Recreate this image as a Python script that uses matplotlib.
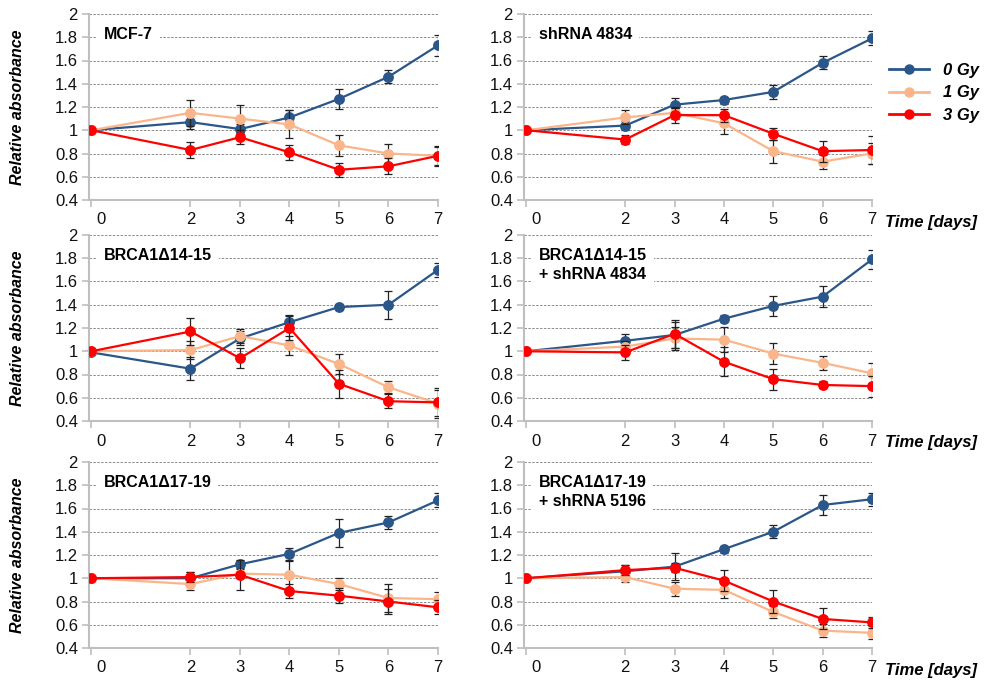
import matplotlib.pyplot as plt
from matplotlib.lines import Line2D
from matplotlib.transforms import ScaledTranslation

plt.rcParams["font.family"] = ["Liberation Sans", "DejaVu Sans"]

days = [0, 2, 3, 4, 5, 6, 7]
doses = ["0 Gy", "1 Gy", "3 Gy"]
dose_colors = ["#2B5689", "#FAB58A", "#FF0000"]

titles = [
    "MCF-7",
    "shRNA 4834",
    "BRCA1\u039414-15",
    "BRCA1\u039414-15\n+ shRNA 4834",
    "BRCA1\u039417-19",
    "BRCA1\u039417-19\n+ shRNA 5196",
]

# mean values per panel: [0 Gy, 1 Gy, 3 Gy]
mcf7_mean = [
    [1, 1.07, 1.01, 1.11, 1.27, 1.46, 1.73],
    [1, 1.15, 1.10, 1.05, 0.87, 0.80, 0.78],
    [1, 0.83, 0.94, 0.81, 0.66, 0.69, 0.78],
]
mcf7_err = [
    [0, 0.06, 0.04, 0.06, 0.085, 0.055, 0.09],
    [0, 0.11, 0.12, 0.12, 0.09, 0.085, 0.08],
    [0, 0.065, 0.06, 0.065, 0.06, 0.07, 0.085],
]
sh4834_mean = [
    [1, 1.04, 1.22, 1.26, 1.33, 1.58, 1.79],
    [1, 1.11, 1.15, 1.06, 0.82, 0.73, 0.80],
    [1, 0.92, 1.13, 1.13, 0.97, 0.82, 0.83],
]
sh4834_err = [
    [0, 0.04, 0.057, 0.03, 0.057, 0.055, 0.06],
    [0, 0.06, 0.05, 0.09, 0.1, 0.06, 0.09],
    [0, 0.04, 0.065, 0.055, 0.05, 0.09, 0.12],
]
d1415_mean = [
    [0.99, 0.85, 1.11, 1.25, 1.38, 1.40, 1.70],
    [1, 1.01, 1.13, 1.05, 0.89, 0.69, 0.55],
    [1, 1.17, 0.94, 1.20, 0.72, 0.57, 0.56],
]
d1415_err = [
    [0, 0.1, 0.06, 0.06, 0.025, 0.12, 0.06],
    [0, 0.08, 0.06, 0.08, 0.085, 0.05, 0.12],
    [0, 0.115, 0.085, 0.1, 0.12, 0.06, 0.12],
]
d1415_sh_mean = [
    [1, 1.09, 1.14, 1.28, 1.39, 1.47, 1.79],
    [1, 1.04, 1.11, 1.10, 0.98, 0.90, 0.81],
    [1, 0.99, 1.15, 0.91, 0.76, 0.71, 0.70],
]
d1415_sh_err = [
    [0, 0.06, 0.11, 0.03, 0.085, 0.09, 0.085],
    [0, 0.05, 0.1, 0.11, 0.09, 0.06, 0.085],
    [0, 0.065, 0.12, 0.125, 0.09, 0.03, 0.09],
]
d1719_mean = [
    [1, 1.00, 1.12, 1.21, 1.39, 1.48, 1.67],
    [1, 0.95, 1.04, 1.03, 0.95, 0.83, 0.82],
    [1, 1.01, 1.03, 0.89, 0.85, 0.80, 0.75],
]
d1719_err = [
    [0, 0.05, 0.03, 0.05, 0.12, 0.057, 0.06],
    [0, 0.05, 0.04, 0.12, 0.055, 0.12, 0.065],
    [0, 0.04, 0.13, 0.06, 0.065, 0.11, 0.06],
]
d1719_sh_mean = [
    [1, 1.06, 1.10, 1.25, 1.40, 1.63, 1.68],
    [1, 1.01, 0.91, 0.90, 0.71, 0.55, 0.53],
    [1, 1.07, 1.09, 0.98, 0.80, 0.65, 0.62],
]
d1719_sh_err = [
    [0, 0.05, 0.115, 0.03, 0.055, 0.09, 0.055],
    [0, 0.04, 0.06, 0.07, 0.055, 0.055, 0.055],
    [0, 0.04, 0.04, 0.09, 0.095, 0.09, 0.05],
]

panel_means = [mcf7_mean, sh4834_mean, d1415_mean, d1415_sh_mean, d1719_mean, d1719_sh_mean]
panel_errs = [mcf7_err, sh4834_err, d1415_err, d1415_sh_err, d1719_err, d1719_sh_err]

yticks = [0.4, 0.6, 0.8, 1.0, 1.2, 1.4, 1.6, 1.8, 2.0]
ytick_labels = ["0.4", "0.6", "0.8", "1", "1.2", "1.4", "1.6", "1.8", "2"]

W, H = 984, 685
fig = plt.figure(figsize=(W / 100, H / 100), dpi=100)

col_px = [(89, 349), (524, 348)]
row_px = [(14, 200), (235, 421), (462, 648)]
spine_col = "#BFBFBF"

for i in range(6):
    r, c = divmod(i, 2)
    left, width = col_px[c]
    top, bottom = row_px[r]
    ax = fig.add_axes([left / W, 1 - bottom / H, width / W, (bottom - top) / H])

    for k in range(3):
        ax.errorbar(days, panel_means[i][k], yerr=panel_errs[i][k],
                    color=dose_colors[k], lw=1.6, marker="o", ms=6.8,
                    ecolor="#222222", elinewidth=0.9, capsize=3, capthick=0.9,
                    zorder=3 + k)

    ax.set_xlim(-0.05, 7.0)
    ax.set_ylim(0.4, 2.0)
    ax.set_xticks(days)
    ax.set_xticklabels([str(d) for d in days])
    ax.set_yticks(yticks)
    ax.set_yticklabels(ytick_labels)
    ax.tick_params(axis="both", labelsize=12, color=spine_col, length=5,
                   width=1.2, labelcolor="#111111")
    ax.tick_params(axis="x", pad=4)
    ax.tick_params(axis="y", pad=3)
    # Excel puts the first category label a bit to the right
    lbl0 = ax.get_xticklabels()[0]
    lbl0.set_transform(lbl0.get_transform() + ScaledTranslation(10 / 100, 0, fig.dpi_scale_trans))

    for y in yticks[1:]:
        ax.axhline(y, color="#8C8C8C", lw=0.7, ls=(0, (2.5, 1.5)), zorder=1)

    for side in ["top", "right"]:
        ax.spines[side].set_visible(False)
    for side in ["left", "bottom"]:
        ax.spines[side].set_color(spine_col)
        ax.spines[side].set_linewidth(1.5)

    ax.text(0.042, 0.93, titles[i], transform=ax.transAxes, fontsize=11.5,
            fontweight="bold", ha="left", va="top", linespacing=1.35,
            bbox=dict(facecolor="white", edgecolor="none", pad=5), zorder=2)

    if c == 0:
        fig.text(18 / W, 1 - (top + bottom) / 2 / H, "Relative absorbance",
                 rotation=90, ha="center", va="center", fontsize=11.5,
                 fontweight="bold", style="italic")
    else:
        fig.text(885 / W, 1 - (bottom + 22) / H, "Time [days]", ha="left",
                 va="center", fontsize=12, fontweight="bold", style="italic")

handles = [Line2D([], [], color=dose_colors[k], lw=2, marker="o", ms=6.5)
           for k in range(3)]
leg = fig.legend(handles, doses, loc="center left",
                 bbox_to_anchor=(889 / W, 1 - 93 / H), frameon=False,
                 borderaxespad=0, borderpad=0,
                 handlelength=2.4, handletextpad=0.85, labelspacing=0.45,
                 prop=dict(size=12, weight="bold", style="italic"))

fig.savefig("out.png", dpi=100)
